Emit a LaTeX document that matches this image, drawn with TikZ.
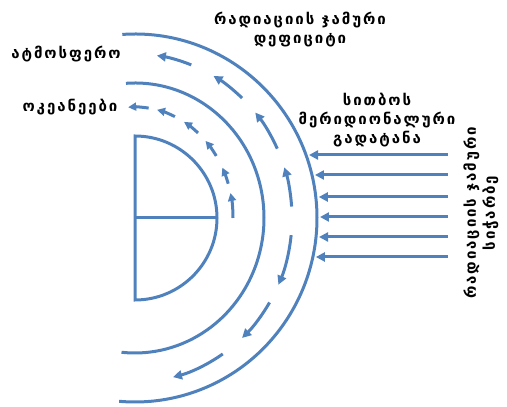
\documentclass[tikz,border=0pt]{standalone}
\usepackage{fontspec}
\setmainfont{DejaVu Sans}
\newfontfamily\geofont[LetterSpace=13]{DejaVu Sans}
\usepackage{tikz}
\usetikzlibrary{arrows.meta}
\definecolor{earthblue}{RGB}{79,129,189}

\begin{document}
\begin{tikzpicture}[
  x=1pt, y=1pt,
  shell/.style={draw=earthblue, line width=3pt},
  flow/.style={draw=earthblue, line width=3pt, -{Triangle[length=9pt,width=9pt]}},
  seaflow/.style={draw=earthblue, line width=3pt, -{Triangle[length=8pt,width=8pt]}},
  lbl/.style={font=\geofont\bfseries\fontsize{15}{19}\selectfont, align=center, inner sep=0pt},
]
  \useasboundingbox (0,0) rectangle (507,407);
  \coordinate (c) at (135,189);

  % Earth, ocean boundary and atmosphere boundary
  \draw[shell] (c) ++(0,82) arc[start angle=90, end angle=-90, radius=82] -- cycle;
  \draw[shell] (c) -- ++(82,0);
  \draw[shell] (c) ++({129*cos(94)},{135*sin(94)}) arc[start angle=94, end angle=-96, x radius=129, y radius=135];
  \draw[shell] (c) ++({182*cos(94)},{184*sin(94)}) arc[start angle=94, end angle=-95, x radius=182, y radius=184];

  % Ocean transport (dashed arrows)
  \foreach \a/\b in {0/13, 18/27, 34/44, 50/60, 66/77, 82/94}
    \draw[seaflow] (c) ++({98*cos(\a)},{111*sin(\a)}) arc[start angle=\a, end angle=\b, x radius=98, y radius=111];

  % Atmosphere transport
  \foreach \a/\b in {4/18, 25/40, 47/60, 69/82, -6/-24, -31/-47, -56/-76}
    \draw[flow] (c) ++({157*cos(\a)},{164*sin(\a)}) arc[start angle=\a, end angle=\b, x radius=157, y radius=164];

  % Incoming radiation
  \foreach \yy in {252,232,210,190,170,150} {
    \pgfmathsetmacro\xe{135+182*sqrt(1-((\yy-189)/184)^2)+3}
    \coordinate (s\yy) at (448,\yy);
    \coordinate (e\yy) at (\xe,\yy);
    \draw[flow] (s\yy) -- (e\yy);
  }

  % Labels
  \node[lbl] (deficit) at (300,377) {რადიაციის ჯამური\\დეფიციტი};
  \node[lbl] (atmo) at (66,353) {ატმოსფერო};
  \node[lbl] (ocean) at (70,300) {ოკეანეები};
  \node[lbl] (transport) at (377,287) {სითბოს\\მერიდიონალური\\გადატანა};
  \node[lbl, rotate=90] (surplus) at (481,194) {რადიაციის ჯამური\\სიჭარბე};
\end{tikzpicture}
\end{document}
